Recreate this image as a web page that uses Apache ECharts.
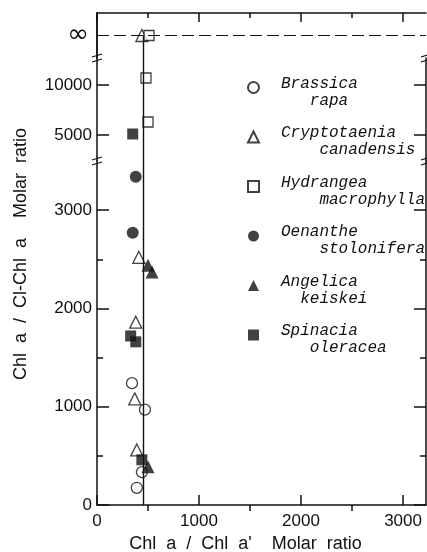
<!DOCTYPE html>
<html>
<head>
<meta charset="utf-8">
<script src="https://cdn.jsdelivr.net/npm/echarts@6/dist/echarts.min.js"></script>
<style>
html, body { margin: 0; padding: 0; background: #fff; }
#main { width: 427px; height: 552px; }
</style>
</head>
<body>
<div id="main"></div>
<script>
// x: Chl a / Chl a' ratio, y: Chl a / Cl-Chl a ratio (Infinity = no Cl-Chl a found)
var brassica     = [[343, 1240], [470, 970], [440, 335], [390, 175]];
var cryptotaenia = [[410, 2520], [380, 1860], [370, 1080], [390, 560], [440, Infinity]];
var hydrangea    = [[480, 10700], [500, 6300], [510, Infinity]];
var oenanthe     = [[380, 3340], [350, 2770]];
var angelica     = [[500, 2440], [540, 2370], [500, 390]];
var spinacia     = [[350, 5100], [330, 1720], [380, 1660], [440, 460]];

var speciesNames = ['Brassica rapa', 'Cryptotaenia canadensis', 'Hydrangea macrophylla',
                    'Oenanthe stolonifera', 'Angelica keiskei', 'Spinacia oleracea'];
var meanRatio = 450;

var xTicks = [0, 1000, 2000, 3000];
var xMinorTicks = [500, 1500, 2500];
var yTicksLow = [0, 1000, 2000, 3000];
var yMinorTicksLow = [500, 1500, 2500];
var yTicksHigh = [5000, 10000];
var infLabel = '\u221E';

var chart = echarts.init(document.getElementById('main'));

var ink = '#111';
var font = 'Liberation Sans';
var xMax = 3225;
var lowMax = 3500;
// three stacked panels: 0 = 0..3500, 1 = 5000..10000 range, 2 = infinity
var panels = [
    { left: 97, right: 1, top: 161, height: 344, outerBoundsMode: 'none' },
    { left: 97, right: 1, top: 58, height: 103, outerBoundsMode: 'none' },
    { left: 97, right: 1, top: 13, height: 45, outerBoundsMode: 'none' }
];

var speciesData = [brassica, cryptotaenia, hydrangea, oenanthe, angelica, spinacia];
var symbols = ['circle', 'triangle', 'rect', 'circle', 'triangle', 'rect'];
var sizes = [11, 12, 10, 12, 13, 11];
var filled = [false, false, false, true, true, true];
var indent = [3, 4, 4, 4, 2, 3];

function panelOf(v) {
    if (v === Infinity) return 2;
    return v > lowMax ? 1 : 0;
}

var xIdx = [0, 2, 3];
var yIdx = [0, 4, 6];

var lineStyle = { color: ink, width: 1.5 };
function tick(len, vals) {
    return { show: true, inside: true, length: len, customValues: vals, lineStyle: lineStyle };
}
function plain(v) { return String(v); }

var xAxes = [
    { gridIndex: 0, type: 'value', min: 0, max: xMax, interval: 1000,
      axisLine: { show: true, lineStyle: lineStyle }, splitLine: { show: false },
      axisTick: tick(10, xTicks),
      axisLabel: { customValues: xTicks, formatter: plain, margin: 8, color: ink, fontFamily: font, fontSize: 17 },
      name: 'Chl  a  /  Chl  a\'    Molar  ratio', nameLocation: 'middle', nameGap: 30,
      nameTextStyle: { color: ink, fontFamily: font, fontSize: 18, padding: [0, 32, 0, 0] } },
    { gridIndex: 0, type: 'value', min: 0, max: xMax,
      axisLine: { show: false }, splitLine: { show: false },
      axisTick: tick(6, xMinorTicks), axisLabel: { show: false } },
    { gridIndex: 1, type: 'value', min: 0, max: xMax, show: false },
    { gridIndex: 2, type: 'value', min: 0, max: xMax, position: 'top', interval: 1000,
      axisLine: { show: true, lineStyle: lineStyle }, splitLine: { show: false },
      axisTick: tick(9, xTicks), axisLabel: { show: false } },
    { gridIndex: 2, type: 'value', min: 0, max: xMax, position: 'top',
      axisLine: { show: false }, splitLine: { show: false },
      axisTick: tick(5, xMinorTicks), axisLabel: { show: false } }
];

function lowAxis(pos, ticks, len, withLabels, withLine) {
    return { gridIndex: 0, type: 'value', min: 0, max: lowMax, interval: 1000, position: pos,
        axisLine: { show: withLine, lineStyle: lineStyle }, splitLine: { show: false },
        axisTick: tick(len, ticks),
        axisLabel: withLabels ? { customValues: ticks, formatter: plain, margin: 5, color: ink, fontFamily: font, fontSize: 17 } : { show: false } };
}
function highAxis(pos, withLabels) {
    return { gridIndex: 1, type: 'value', min: 2400, max: 12700, position: pos,
        axisLine: { show: true, lineStyle: lineStyle }, splitLine: { show: false },
        axisTick: tick(12, yTicksHigh),
        axisLabel: withLabels ? { customValues: yTicksHigh, formatter: plain, margin: 5, color: ink, fontFamily: font, fontSize: 17 } : { show: false } };
}
function infAxis(pos, withLabels) {
    return { gridIndex: 2, type: 'category', data: ['lo', infLabel, 'hi'], boundaryGap: false, position: pos,
        axisLine: { show: true, lineStyle: lineStyle }, axisTick: { show: false }, splitLine: { show: false },
        axisLabel: withLabels ? { interval: 0, margin: 8, color: ink, fontFamily: 'DejaVu Sans', fontSize: 26,
            formatter: function (v) { return v === infLabel ? v : ''; } } : { show: false } };
}

var yAxes = [
    lowAxis('left', yTicksLow, 12, true, true),
    lowAxis('left', yMinorTicksLow, 6, false, false),
    lowAxis('right', yTicksLow, 12, false, true),
    lowAxis('right', yMinorTicksLow, 6, false, false),
    highAxis('left', true),
    highAxis('right', false),
    infAxis('left', true),
    infAxis('right', false)
];

var series = [];
speciesData.forEach(function (pts, i) {
    [0, 1, 2].forEach(function (p) {
        var d = pts.filter(function (pt) { return panelOf(pt[1]) === p; })
                   .map(function (pt) { return p === 2 ? [pt[0], infLabel] : pt; });
        series.push({
            name: speciesNames[i], type: 'scatter', z: 3,
            xAxisIndex: xIdx[p], yAxisIndex: yIdx[p],
            symbol: symbols[i], symbolSize: sizes[i],
            itemStyle: filled[i] ? { color: ink } : { color: '#fff', borderColor: ink, borderWidth: 1.3 },
            data: d
        });
    });
});

// mean ratio line through all panels, dashed line at infinity
var markBase = { symbol: 'none', silent: true, label: { show: false }, lineStyle: { color: ink, width: 1.4, type: 'solid' } };
series.push({ type: 'scatter', z: 1, xAxisIndex: 0, yAxisIndex: 0, data: [],
    markLine: Object.assign({}, markBase, { data: [{ xAxis: meanRatio }] }) });
series.push({ type: 'scatter', z: 1, xAxisIndex: 2, yAxisIndex: 4, data: [],
    markLine: Object.assign({}, markBase, { data: [{ xAxis: meanRatio }] }) });
series.push({ type: 'scatter', z: 1, xAxisIndex: 3, yAxisIndex: 6, data: [],
    markLine: Object.assign({}, markBase, { data: [
        [{ coord: [meanRatio, infLabel] }, { coord: [meanRatio, 'lo'] }],
        { yAxis: infLabel, lineStyle: { color: ink, width: 1.2, type: [12, 5] } }
    ] }) });

// axis break marks at panel joins
var breaks = [];
[panels[0].top, panels[1].top].forEach(function (y) {
    [97, 426].forEach(function (x) {
        breaks.push({ type: 'line', shape: { x1: x - 5, y1: y - 1, x2: x + 5, y2: y - 4 }, style: { stroke: ink, lineWidth: 1.2 } });
        breaks.push({ type: 'line', shape: { x1: x - 5, y1: y + 4, x2: x + 5, y2: y + 1 }, style: { stroke: ink, lineWidth: 1.2 } });
    });
});

var legendText = { color: ink, fontFamily: 'Liberation Mono', fontStyle: 'italic', fontSize: 16, lineHeight: 17 };
var option = {
    animation: false,
    backgroundColor: '#fff',
    grid: panels,
    xAxis: xAxes,
    yAxis: yAxes,
    legend: {
        data: speciesNames,
        orient: 'vertical',
        left: 242, top: 65,
        itemWidth: 11, itemHeight: 11, itemGap: 11,
        selectedMode: false,
        textStyle: {
            color: ink, padding: [0, 0, 0, 17],
            rich: { s: { fontSize: 1, lineHeight: 9 }, t: legendText }
        },
        formatter: function (name) {
            var i = speciesNames.indexOf(name);
            var parts = name.split(' ');
            return '{s| }\n{t|' + parts[0] + '}\n{t|' + new Array(indent[i] + 1).join(' ') + parts[1] + '}';
        }
    },
    graphic: breaks.concat([
        { type: 'text', x: 21, y: 254, rotation: Math.PI / 2,
          style: { text: 'Chl  a  /  Cl-Chl  a    Molar  ratio', fill: ink, fontFamily: font, fontSize: 18,
                   align: 'center', verticalAlign: 'middle' } }
    ]),
    series: series
};
chart.setOption(option);

window.addEventListener('resize', function () {
    chart.resize();
});
</script>
</body>
</html>
